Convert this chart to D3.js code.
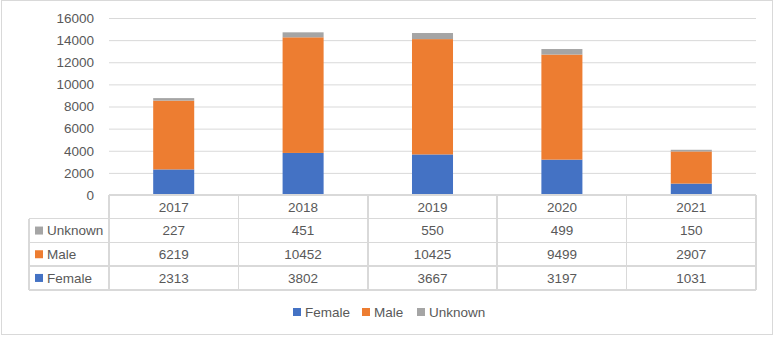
<!DOCTYPE html>
<html lang="en">
<meta charset="utf-8">
<style>
    html, body { margin: 0; padding: 0; background: #fff; }
    svg { display: block; }
    text { font-family: "Liberation Sans", Arial, sans-serif; font-size: 13.5px; fill: #595959; }
</style>
<body>
<svg id="svg" width="777" height="337"></svg>
<script src="https://cdn.jsdelivr.net/npm/d3@7"></script>
<script>
    var years = ["2017", "2018", "2019", "2020", "2021"];
    var female = [2313, 3802, 3667, 3197, 1031];
    var male = [6219, 10452, 10425, 9499, 2907];
    var unknown = [227, 451, 550, 499, 150];
    var seriesNames = ["Female", "Male", "Unknown"];
    var yTicks = [0, 2000, 4000, 6000, 8000, 10000, 12000, 14000, 16000];

    var colors = {Female: "#4472C4", Male: "#ED7D31", Unknown: "#A5A5A5"};
    var grid = "#D9D9D9";

    var svg = d3.select("#svg");
    var plot = {left: 109, right: 756, top: 18, bottom: 195};
    var rowH = 23.7;

    // outer frame
    svg.append("rect")
        .attr("x", 1.5).attr("y", 0.5)
        .attr("width", 771).attr("height", 334)
        .attr("fill", "none").attr("stroke", grid);

    var rows = years.map((y, i) => ({year: y, Female: female[i], Male: male[i], Unknown: unknown[i]}));
    var stacked = d3.stack().keys(seriesNames)(rows);

    var x = d3.scaleBand().domain(years).range([plot.left, plot.right]).padding(0);
    var xb = d3.scaleBand().domain(years).range([plot.left, plot.right]).paddingInner(0.683).paddingOuter(0.3415);
    var y = d3.scaleLinear().domain([0, 16000]).range([plot.bottom, plot.top]);

    // gridlines + y labels
    var yAxis = d3.axisLeft(y).tickValues(yTicks).tickFormat(d3.format("d"))
        .tickSize(-(plot.right - plot.left)).tickPadding(15);
    var ga = svg.append("g").attr("transform", "translate(" + plot.left + ",0)").call(yAxis);
    ga.select(".domain").remove();
    ga.selectAll(".tick line").attr("stroke", grid).attr("stroke-width", 1);
    ga.selectAll(".tick text").style("font-family", "Liberation Sans, Arial, sans-serif").style("font-size", "13.5px").attr("fill", "#595959");

    // bars
    svg.append("g").selectAll("g").data(stacked).enter().append("g")
        .attr("fill", d => colors[d.key])
        .selectAll("rect").data(d => d).enter().append("rect")
            .attr("x", d => xb(d.data.year))
            .attr("width", xb.bandwidth())
            .attr("y", d => y(d[1]))
            .attr("height", d => y(d[0]) - y(d[1]));

    // data table
    var table = svg.append("g");
    var tableRows = [{name: "Unknown", vals: unknown}, {name: "Male", vals: male}, {name: "Female", vals: female}];
    var tTop = plot.bottom, tBottom = plot.bottom + rowH * 4, labelLeft = 29;

    // horizontal lines
    table.append("line").attr("x1", plot.left).attr("x2", plot.right).attr("y1", tTop).attr("y2", tTop);
    for (var r = 1; r <= 4; r++) {
        table.append("line").attr("x1", labelLeft).attr("x2", plot.right)
            .attr("y1", tTop + rowH * r).attr("y2", tTop + rowH * r);
    }
    // vertical lines
    table.append("line").attr("x1", labelLeft).attr("x2", labelLeft).attr("y1", tTop + rowH).attr("y2", tBottom);
    years.forEach(function (yr) {
        table.append("line").attr("x1", x(yr)).attr("x2", x(yr)).attr("y1", tTop).attr("y2", tBottom);
    });
    table.append("line").attr("x1", plot.right).attr("x2", plot.right).attr("y1", tTop).attr("y2", tBottom);
    table.selectAll("line").attr("stroke", grid).attr("stroke-width", 1.5).attr("shape-rendering", "crispEdges");

    // header
    table.selectAll(".hdr").data(years).enter().append("text")
        .attr("x", d => x(d) + x.bandwidth() / 2)
        .attr("y", tTop + rowH / 2)
        .attr("dy", "0.35em")
        .attr("text-anchor", "middle")
        .text(d => d);

    tableRows.forEach(function (row, i) {
        var cy = tTop + rowH * (i + 1) + rowH / 2;
        table.append("rect").attr("x", 35).attr("y", cy - 4).attr("width", 8).attr("height", 8).attr("fill", colors[row.name]);
        table.append("text").attr("x", 47).attr("y", cy).attr("dy", "0.35em").text(row.name);
        row.vals.forEach(function (v, j) {
            table.append("text")
                .attr("x", x(years[j]) + x.bandwidth() / 2)
                .attr("y", cy).attr("dy", "0.35em")
                .attr("text-anchor", "middle")
                .text(v);
        });
    });

    // legend
    var legendX = [293, 362, 417];
    var legend = svg.append("g");
    seriesNames.forEach(function (name, i) {
        legend.append("rect").attr("x", legendX[i]).attr("y", 308).attr("width", 8).attr("height", 8).attr("fill", colors[name]);
        legend.append("text").attr("x", legendX[i] + 12).attr("y", 312).attr("dy", "0.35em").text(name);
    });
</script>
</body>
</html>
